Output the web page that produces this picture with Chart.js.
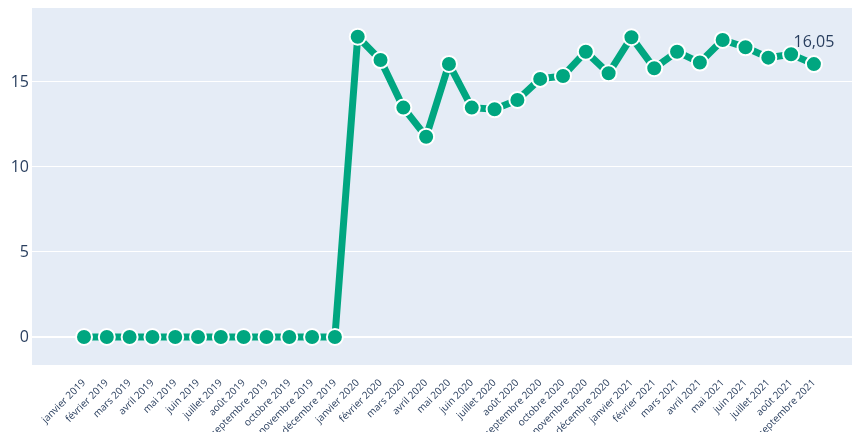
<!DOCTYPE html>
<html>
<head>
<meta charset="utf-8">
<script src="https://cdn.jsdelivr.net/npm/chart.js@4/dist/chart.umd.min.js"></script>
<style>
  html, body { margin:0; padding:0; background:#fff; }
  #wrap { width:852px; height:432px; }
</style>
</head>
<body>
<div id="wrap"><canvas id="c" width="852" height="432"></canvas></div>
<script>
// ========= DONNÉES =========
const months = [
  'janvier 2019','février 2019','mars 2019','avril 2019','mai 2019','juin 2019',
  'juillet 2019','août 2019','septembre 2019','octobre 2019','novembre 2019','décembre 2019',
  'janvier 2020','février 2020','mars 2020','avril 2020','mai 2020','juin 2020',
  'juillet 2020','août 2020','septembre 2020','octobre 2020','novembre 2020','décembre 2020',
  'janvier 2021','février 2021','mars 2021','avril 2021','mai 2021','juin 2021',
  'juillet 2021','août 2021','septembre 2021'
];
const values = [
  0,0,0,0,0,0,0,0,0,0,0,0,
  17.66,16.29,13.49,11.78,16.06,13.49,13.39,13.94,15.18,15.35,16.78,15.51,
  17.63,15.81,16.78,16.14,17.47,17.04,16.43,16.63,16.05
];
const yTicks = [0,5,10,15];
const lastLabel = '16,05';

const TEXT = '#2a3f5f';
const LINE = 'rgb(0,166,128)';

// fond de la zone de tracé (style plotly)
const plotBg = {
  id:'plotBg',
  beforeDraw(chart){
    const {ctx, chartArea:a} = chart;
    ctx.save();
    ctx.fillStyle = '#e5ecf6';
    ctx.fillRect(a.left, a.top, a.right-a.left, a.bottom-a.top);
    ctx.restore();
  }
};

// étiquette de la dernière valeur
const lastText = {
  id:'lastText',
  afterDatasetsDraw(chart){
    const {ctx, scales} = chart;
    const i = values.length-1;
    const x = scales.x.getPixelForValue(i);
    const y = scales.y.getPixelForValue(values[i]);
    ctx.save();
    ctx.font = '16px "Open Sans", sans-serif';
    ctx.fillStyle = TEXT;
    ctx.textAlign = 'center';
    ctx.textBaseline = 'middle';
    ctx.fillText(lastLabel, x, y-22);
    ctx.restore();
  }
};

new Chart(document.getElementById('c'), {
  type:'line',
  data:{
    datasets:[{
      data: values.map((v,i)=>({x:i, y:v})),
      borderColor: LINE,
      backgroundColor: LINE,
      borderWidth: 7,
      pointRadius: 8,
      pointHoverRadius: 8,
      pointBackgroundColor: LINE,
      pointBorderColor: '#fff',
      pointBorderWidth: 2,
      tension: 0,
      fill: false,
      clip: false
    }]
  },
  options:{
    responsive:false,
    animation:false,
    devicePixelRatio:1,
    layout:{ autoPadding:false, padding:{ top:8, right:0, left:0, bottom:0 } },
    plugins:{ legend:{display:false}, tooltip:{enabled:false} },
    scales:{
      x:{
        type:'linear',
        min:-2.28, max:33.67,
        grid:{ display:false },
        border:{ display:false },
        afterFit(s){ s.height = 67; s.paddingLeft = 0; s.paddingRight = 0; },
        afterBuildTicks(s){ s.ticks = months.map((m,i)=>({value:i})); },
        ticks:{
          autoSkip:false,
          maxRotation:45, minRotation:45,
          padding:4,
          color:TEXT,
          font:{ family:'"Open Sans", sans-serif', size:10 },
          callback:(v)=>months[v]
        }
      },
      y:{
        min:-1.65, max:19.35,
        afterFit(s){ s.width = 32; s.paddingTop = 0; s.paddingBottom = 0; },
        afterBuildTicks(s){ s.ticks = yTicks.map(v=>({value:v})); },
        grid:{
          color:'#fff',
          lineWidth:(c)=> c.tick && c.tick.value===0 ? 2 : 1,
          drawTicks:false
        },
        border:{ display:false },
        ticks:{
          padding:3,
          color:TEXT,
          font:{ family:'"Open Sans", sans-serif', size:16 }
        }
      }
    }
  },
  plugins:[plotBg, lastText]
});
</script>
</body>
</html>
